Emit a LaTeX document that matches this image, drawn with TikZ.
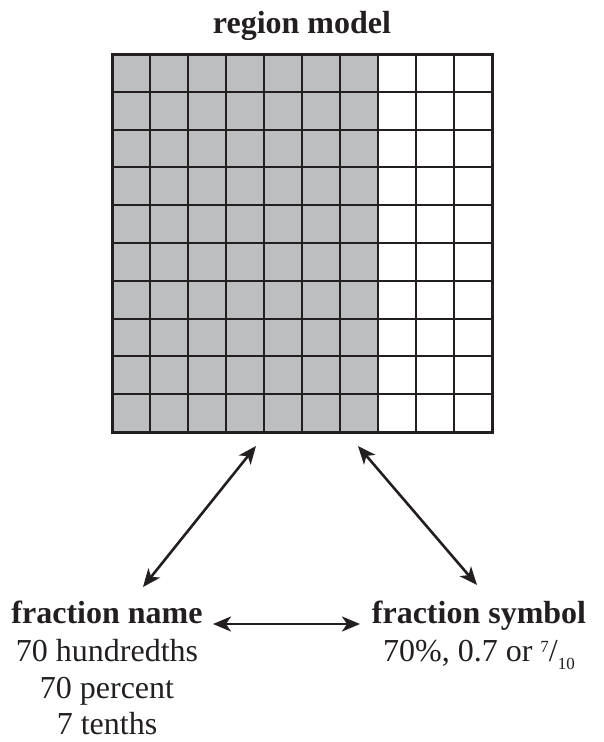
\documentclass[tikz,border=0pt]{standalone}
\usepackage{fontspec}
\setmainfont{Liberation Serif}
\usetikzlibrary{arrows.meta}
\definecolor{ink}{RGB}{35,31,32}
\definecolor{cellgray}{RGB}{188,190,192}
\begin{document}
\begin{tikzpicture}[x=1pt,y=-1pt,
  txt/.style={inner sep=0pt,font=\fontsize{32}{38}\selectfont,text=ink},
  boldtxt/.style={inner sep=0pt,font=\fontsize{32}{38}\selectfont\bfseries,text=ink},
  link/.style={ink,line width=2.6pt,{Stealth[length=18pt,width=15pt,inset=5pt]}-{Stealth[length=18pt,width=15pt,inset=5pt]}},
  gridline/.style={ink,line width=2pt}]
\useasboundingbox (0,0) rectangle (603,742);
\fill[white] (0,0) rectangle (603,742);
\node[boldtxt,anchor=base] (title) at (302,33) {region model};
% grid
\node[inner sep=0pt,minimum width=380pt,minimum height=378pt,anchor=north west] (grid) at (112,54) {};
\fill[cellgray] (grid.north west) rectangle (378,432);
\foreach \i in {1,...,9} {
  \draw[gridline] (112+\i*38,54) -- (112+\i*38,432);
  \draw[gridline] (112,54+\i*37.8) -- (492,54+\i*37.8);
}
\draw[ink,line width=3pt] (grid.north west) rectangle (grid.south east);
% texts
\node[boldtxt,anchor=base] (name) at (107,623) {fraction name};
\node[txt,anchor=base] (n1) at (107,661) {70 hundredths};
\node[txt,anchor=base] (n2) at (107,698) {70 percent};
\node[txt,anchor=base] (n3) at (107,734) {7 tenths};
\node[boldtxt,anchor=base] (sym) at (479,623) {fraction symbol};
\node[txt,anchor=base] (s1) at (479,661) {70\%, 0.7 or \raisebox{9pt}{\fontsize{17}{17}\selectfont 7}/\raisebox{-8pt}{\fontsize{17}{17}\selectfont 10}};
% connector ends
\coordinate (gl) at (256,446);
\coordinate (gr) at (358,446);
\coordinate (nl) at (143,587);
\coordinate (sr) at (477,585);
\coordinate (hl) at (213,624);
\coordinate (hr) at (360,624);
\draw[link] (gl) -- (nl);
\draw[link] (gr) -- (sr);
\draw[link] (hl) -- (hr);
\end{tikzpicture}
\end{document}
